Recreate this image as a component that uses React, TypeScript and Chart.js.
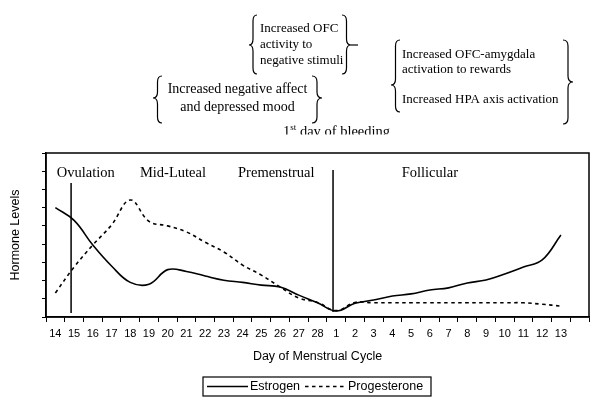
import React, { useEffect, useRef } from "react";
import { Chart, registerables } from "chart.js";

Chart.register(...registerables);

// ---- data ----
const dayLabels: string[] = [
  "14", "15", "16", "17", "18", "19", "20", "21", "22", "23", "24", "25", "26", "27", "28",
  "1", "2", "3", "4", "5", "6", "7", "8", "9", "10", "11", "12", "13", "",
];
const estrogen: (number | null)[] = [
  6.0, 5.3, 3.95, 2.8, 1.9, 1.8, 2.6, 2.5, 2.25, 2.02, 1.9, 1.75, 1.65, 1.2, 0.78,
  0.33, 0.75, 0.93, 1.15, 1.27, 1.48, 1.6, 1.87, 2.03, 2.36, 2.74, 3.13, 4.5, null,
];
const progesterone: (number | null)[] = [
  1.32, 2.74, 3.95, 5.05, 6.42, 5.25, 5.0, 4.67, 4.1, 3.57, 2.85, 2.3, 1.65, 1.04, 0.8,
  0.35, 0.8, 0.78, 0.78, 0.78, 0.78, 0.78, 0.78, 0.78, 0.78, 0.78, 0.7, 0.6, null,
];
const seriesNames = ["Estrogen", "Progesterone"];
const xTitle = "Day of Menstrual Cycle";
const yTitle = "Hormone Levels";
const yMax = 9;

// phase markers (category index, y value range)
const ovulationMarker = { x: 0.84, y0: 0.22, y1: 7.35 };
const bleedingMarker = { x: 14.83, y0: 0.27, y1: 8.07 };
const phaseLabels = [
  { text: "Ovulation", x: 1.62, y: 7.9 },
  { text: "Mid-Luteal", x: 6.28, y: 7.9 },
  { text: "Premenstrual", x: 11.8, y: 7.9 },
  { text: "Follicular", x: 20.0, y: 7.9 },
];

const SERIF = '"Liberation Serif", "Times New Roman", serif';
const SANS = '"Liberation Sans", Arial, sans-serif';

function brace(ctx: CanvasRenderingContext2D, xEdge: number, xTip: number, y0: number, y1: number, yMid: number) {
  const xs = (xEdge + xTip) / 2;
  const r = 6;
  ctx.beginPath();
  ctx.moveTo(xEdge, y0);
  ctx.quadraticCurveTo(xs, y0, xs, y0 + r);
  ctx.lineTo(xs, yMid - r);
  ctx.quadraticCurveTo(xs, yMid, xTip, yMid);
  ctx.quadraticCurveTo(xs, yMid, xs, yMid + r);
  ctx.lineTo(xs, y1 - r);
  ctx.quadraticCurveTo(xs, y1, xEdge, y1);
  ctx.stroke();
}

const overlayPlugin = {
  id: "overlay",
  afterDraw(chart: any) {
    const ctx: CanvasRenderingContext2D = chart.ctx;
    const area = chart.chartArea;
    const xs = chart.scales.x;
    const ys = chart.scales.y;
    ctx.save();
    ctx.strokeStyle = "#000";
    ctx.fillStyle = "#000";
    // frame
    ctx.lineWidth = 1.5;
    ctx.strokeRect(area.left, area.top, area.right - area.left, area.bottom - area.top);
    // markers
    ctx.lineWidth = 1.5;
    for (const m of [ovulationMarker, bleedingMarker]) {
      const px = xs.getPixelForValue(m.x);
      ctx.beginPath();
      ctx.moveTo(px, ys.getPixelForValue(m.y0));
      ctx.lineTo(px, ys.getPixelForValue(m.y1));
      ctx.stroke();
    }
    // phase labels
    ctx.font = `14.5px ${SERIF}`;
    ctx.textAlign = "center";
    ctx.textBaseline = "middle";
    for (const p of phaseLabels) {
      ctx.fillText(p.text, xs.getPixelForValue(p.x), ys.getPixelForValue(p.y));
    }

    // annotations above chart
    ctx.lineWidth = 1.2;
    ctx.font = `13px ${SERIF}`;
    ctx.textAlign = "left";
    ctx.fillText("Increased OFC", 260, 29);
    ctx.fillText("activity to", 260, 45);
    ctx.fillText("negative stimuli", 260, 60.5);
    brace(ctx, 257, 249, 15, 74, 45);
    brace(ctx, 342, 351, 15, 74, 45);
    ctx.beginPath();
    ctx.moveTo(351, 45);
    ctx.lineTo(358, 45);
    ctx.stroke();

    ctx.font = `14px ${SERIF}`;
    ctx.textAlign = "center";
    ctx.fillText("Increased negative affect", 237.5, 89);
    ctx.fillText("and depressed mood", 237.5, 107);
    brace(ctx, 162, 153, 76, 123, 98);
    brace(ctx, 312, 322, 76, 123, 98);

    ctx.font = `13px ${SERIF}`;
    ctx.textAlign = "left";
    ctx.fillText("Increased OFC-amygdala", 402, 55);
    ctx.fillText("activation to rewards", 402, 69.5);
    ctx.fillText("Increased HPA axis activation", 402, 100);
    brace(ctx, 400, 391, 40, 112, 85);
    brace(ctx, 563, 573, 40, 124, 82);

    // 1st day of bleeding (clipped at bottom)
    ctx.save();
    ctx.beginPath();
    ctx.rect(0, 0, 600, 134.5);
    ctx.clip();
    ctx.textBaseline = "alphabetic";
    ctx.font = `14.5px ${SERIF}`;
    let x = 283;
    ctx.fillText("1", x, 136);
    x += ctx.measureText("1").width;
    ctx.font = `9px ${SERIF}`;
    ctx.fillText("st", x, 130);
    x += ctx.measureText("st").width;
    ctx.font = `14.5px ${SERIF}`;
    ctx.fillText(" day of bleeding", x, 136);
    ctx.restore();

    // legend
    ctx.textBaseline = "middle";
    ctx.font = `12.5px ${SANS}`;
    const ly = 386.5;
    const ds = chart.data.datasets;
    const boxL = 203;
    const boxR = 431;
    ctx.lineWidth = 1.2;
    ctx.setLineDash([]);
    ctx.strokeRect(boxL, 377, boxR - boxL, 19);
    let lx = 207;
    ds.forEach((d: any) => {
      ctx.lineWidth = 1.3;
      ctx.setLineDash(d.borderDash || []);
      ctx.beginPath();
      ctx.moveTo(lx, ly);
      ctx.lineTo(lx + 41, ly);
      ctx.stroke();
      ctx.setLineDash([]);
      lx += 43;
      ctx.textAlign = "left";
      ctx.fillText(d.label, lx, ly);
      lx += ctx.measureText(d.label).width + 5;
    });
    ctx.restore();
  },
};

export default function App() {
  const ref = useRef<HTMLCanvasElement | null>(null);
  useEffect(() => {
    if (!ref.current) return;
    const chart = new Chart(ref.current, {
      type: "line",
      data: {
        labels: dayLabels,
        datasets: [
          {
            label: seriesNames[0],
            data: estrogen,
            borderColor: "#000",
            borderWidth: 1.6,
            pointRadius: 0,
            tension: 0.4,
            fill: false,
          },
          {
            label: seriesNames[1],
            data: progesterone,
            borderColor: "#000",
            borderWidth: 1.6,
            borderDash: [3.5, 3.5],
            pointRadius: 0,
            tension: 0.4,
            fill: false,
          },
        ],
      },
      options: {
        animation: false,
        responsive: false,
        devicePixelRatio: 1,
        layout: { padding: { top: 153, right: 11, bottom: 36, left: 0 } },
        plugins: { legend: { display: false }, tooltip: { enabled: false } },
        scales: {
          x: {
            type: "category",
            offset: true,
            grid: {
              display: true,
              offset: true,
              drawOnChartArea: false,
              drawTicks: true,
              tickLength: 5,
              color: "#000",
              lineWidth: 1,
            },
            border: { display: true, color: "#000", width: 1.5 },
            ticks: {
              color: "#000",
              font: { family: SANS, size: 11 },
              maxRotation: 0,
              autoSkip: false,
              padding: 5,
            },
            title: {
              display: true,
              text: xTitle,
              color: "#000",
              font: { family: SANS, size: 12.5 },
              padding: { top: 0, bottom: 6 },
            },
            afterFit: (s: any) => {
              s.height = 53;
            },
          },
          y: {
            min: 0,
            max: yMax,
            grid: {
              display: true,
              drawOnChartArea: false,
              drawTicks: true,
              tickLength: 4,
              color: "#000",
              lineWidth: 1,
            },
            border: { display: true, color: "#000", width: 1.5 },
            ticks: {
              stepSize: 1,
              callback: () => "",
              padding: 0,
            },
            title: {
              display: true,
              text: yTitle,
              color: "#000",
              font: { family: SANS, size: 12.5, lineHeight: "32px" },
              padding: { top: 0, bottom: 0 },
            },
            afterFit: (s: any) => {
              s.width = 46;
            },
          },
        },
      },
      plugins: [overlayPlugin],
    } as any);
    return () => chart.destroy();
  }, []);
  return (
    <div style={{ position: "fixed", left: 0, top: 0, width: 600, height: 406, background: "#fff" }}>
      <canvas ref={ref} width={600} height={406} style={{ display: "block" }} />
    </div>
  );
}
